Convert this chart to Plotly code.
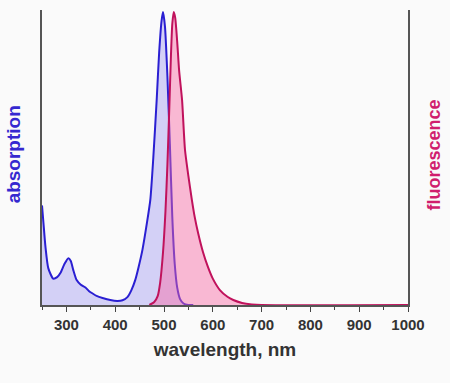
import plotly.graph_objects as go

# Absorption spectrum (normalized)
abs_nm = [250, 253, 257, 263, 273, 281, 288, 296, 304, 309, 314, 321, 329, 339, 346, 353, 363, 374, 390, 404, 415, 425, 433,
          441, 448, 456, 465, 472, 478, 485, 490, 495, 498, 502, 507, 512, 517, 522, 527, 533, 540, 550, 560]
abs_val = [0.34, 0.28, 0.2, 0.125, 0.09, 0.095, 0.11, 0.14, 0.16, 0.15, 0.12, 0.085, 0.07, 0.06, 0.048, 0.04, 0.03, 0.024, 0.017, 0.014, 0.016, 0.027, 0.05,
           0.085, 0.13, 0.19, 0.28, 0.36, 0.5, 0.7, 0.86, 0.97, 1.0, 0.95, 0.78, 0.55, 0.3, 0.14, 0.06, 0.02, 0.005, 0.0, 0.0]

# Fluorescence spectrum (normalized)
fl_nm = [470, 480, 487, 492, 498, 503, 507, 511, 514, 517, 520, 523, 527, 531, 537, 543, 550, 557, 563, 570, 580, 590,
         600, 615, 630, 642, 660, 680, 700, 1000]
fl_val = [0.0, 0.01, 0.03, 0.075, 0.18, 0.32, 0.48, 0.68, 0.84, 0.96, 1.0, 0.98, 0.9, 0.8, 0.7, 0.53, 0.44, 0.36, 0.3, 0.245, 0.18, 0.13,
          0.09, 0.05, 0.028, 0.017, 0.007, 0.002, 0.0, 0.0]

x_ticks = [300, 400, 500, 600, 700, 800, 900, 1000]

fig = go.Figure()
fig.add_trace(go.Scatter(x=abs_nm, y=abs_val, mode="lines", line=dict(color="#2a1fd2", width=2, shape="spline", smoothing=0.6),
                         fill="tozeroy", fillcolor="rgba(130,120,240,0.32)", hoverinfo="skip", showlegend=False))
fig.add_trace(go.Scatter(x=fl_nm, y=fl_val, mode="lines", line=dict(color="#c0125c", width=2, shape="spline", smoothing=0.6),
                         fill="tozeroy", fillcolor="rgba(248,105,165,0.45)", hoverinfo="skip", showlegend=False))

fig.update_layout(
    width=450, height=383,
    margin=dict(l=42, r=42, t=10, b=78, autoexpand=False),
    paper_bgcolor="#fafafa", plot_bgcolor="#fafafa",
    font=dict(family="Liberation Sans, Arial, sans-serif", color="#333333"),
    xaxis=dict(range=[250, 1000], tickvals=x_ticks, ticks="outside", ticklen=5, tickwidth=1.2, tickcolor="#444",
               minor=dict(dtick=50, tick0=250, ticks="outside", ticklen=3, tickcolor="#444"),
               showline=True, linecolor="#555", linewidth=1.5, showgrid=False, zeroline=False, automargin=False,
               tickfont=dict(size=15, family="Liberation Sans, Arial, sans-serif", color="#333", weight="bold"),
               title=dict(text="<b>wavelength, nm</b>", font=dict(size=19, color="#333"), standoff=11)),
    yaxis=dict(range=[0, 1.007], showticklabels=False, ticks="", showline=True, mirror=True, linecolor="#555", linewidth=1.5,
               showgrid=False, zeroline=False, automargin=False),
    annotations=[
        dict(text="<b>absorption</b>", xref="paper", yref="paper", x=-0.077, y=0.51, textangle=-90, showarrow=False,
             font=dict(size=19, color="#3528d0"), xanchor="center", yanchor="middle"),
        dict(text="<b>fluorescence</b>", xref="paper", yref="paper", x=1.071, y=0.51, textangle=-90, showarrow=False,
             font=dict(size=18, color="#d01e6e"), xanchor="center", yanchor="middle"),
    ],
)

fig.write_html("out.html", config={"displayModeBar": False},
               post_script="document.body.style.margin='0';document.body.style.background='#fafafa';")
